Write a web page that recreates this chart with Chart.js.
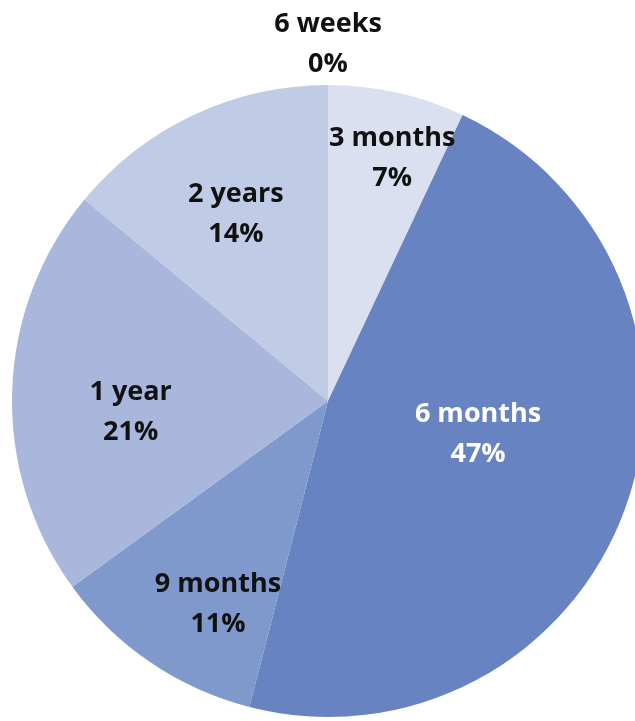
<!DOCTYPE html>
<html>
<head>
<meta charset="utf-8">
<script src="https://cdn.jsdelivr.net/npm/chart.js@4/dist/chart.umd.min.js"></script>
<style>
  html, body { margin: 0; padding: 0; background: #ffffff; overflow: hidden; width: 635px; height: 721px; }
  #wrap { position: absolute; left: 0; top: 0; width: 656px; height: 802px; }
</style>
</head>
<body>
<div id="wrap"><canvas id="pie" width="656" height="802"></canvas></div>
<script>
// Share of respondents by time period
const categories = ['6 weeks', '3 months', '6 months', '9 months', '1 year', '2 years'];
const shares = [0, 7, 47, 11, 21, 14];
const percentLabels = ['0%', '7%', '47%', '11%', '21%', '14%'];

const sliceColors = ['#e4e8f4', '#dae0f0', '#6783c2', '#8099cc', '#a8b7db', '#c0cbe5'];
const textColors = ['#111111', '#111111', '#ffffff', '#111111', '#111111', '#111111'];
// label placement: distance as a fraction of the radius, and angular nudge (degrees)
const labelRadius = [1.136, 0.80, 0.485, 0.725, 0.625, 0.665];
const labelShift = [0, 2.1, -8.1, -5.5, -4.4, -0.8];

const sliceLabels = {
  id: 'sliceLabels',
  afterDatasetsDraw(chart) {
    const ctx = chart.ctx;
    const meta = chart.getDatasetMeta(0);
    ctx.save();
    ctx.font = 'bold 27px "Open Sans", sans-serif';
    ctx.textAlign = 'center';
    ctx.textBaseline = 'middle';
    meta.data.forEach((arc, i) => {
      const p = arc.getProps(['x', 'y', 'startAngle', 'endAngle', 'outerRadius'], true);
      const mid = (p.startAngle + p.endAngle) / 2 + labelShift[i] * Math.PI / 180;
      const r = p.outerRadius * labelRadius[i];
      const x = p.x + Math.cos(mid) * r;
      const y = p.y + Math.sin(mid) * r + 2;
      ctx.fillStyle = textColors[i];
      ctx.fillText(categories[i], x, y - 20);
      ctx.fillText(percentLabels[i], x, y + 20);
    });
    ctx.restore();
  }
};

new Chart(document.getElementById('pie'), {
  type: 'pie',
  data: {
    labels: categories,
    datasets: [{
      data: shares,
      backgroundColor: sliceColors,
      borderWidth: 0
    }]
  },
  options: {
    responsive: false,
    animation: false,
    layout: { padding: { left: 12, right: 12, top: 85, bottom: 85 } },
    plugins: {
      legend: { display: false },
      tooltip: { enabled: false }
    }
  },
  plugins: [sliceLabels]
});
</script>
</body>
</html>
